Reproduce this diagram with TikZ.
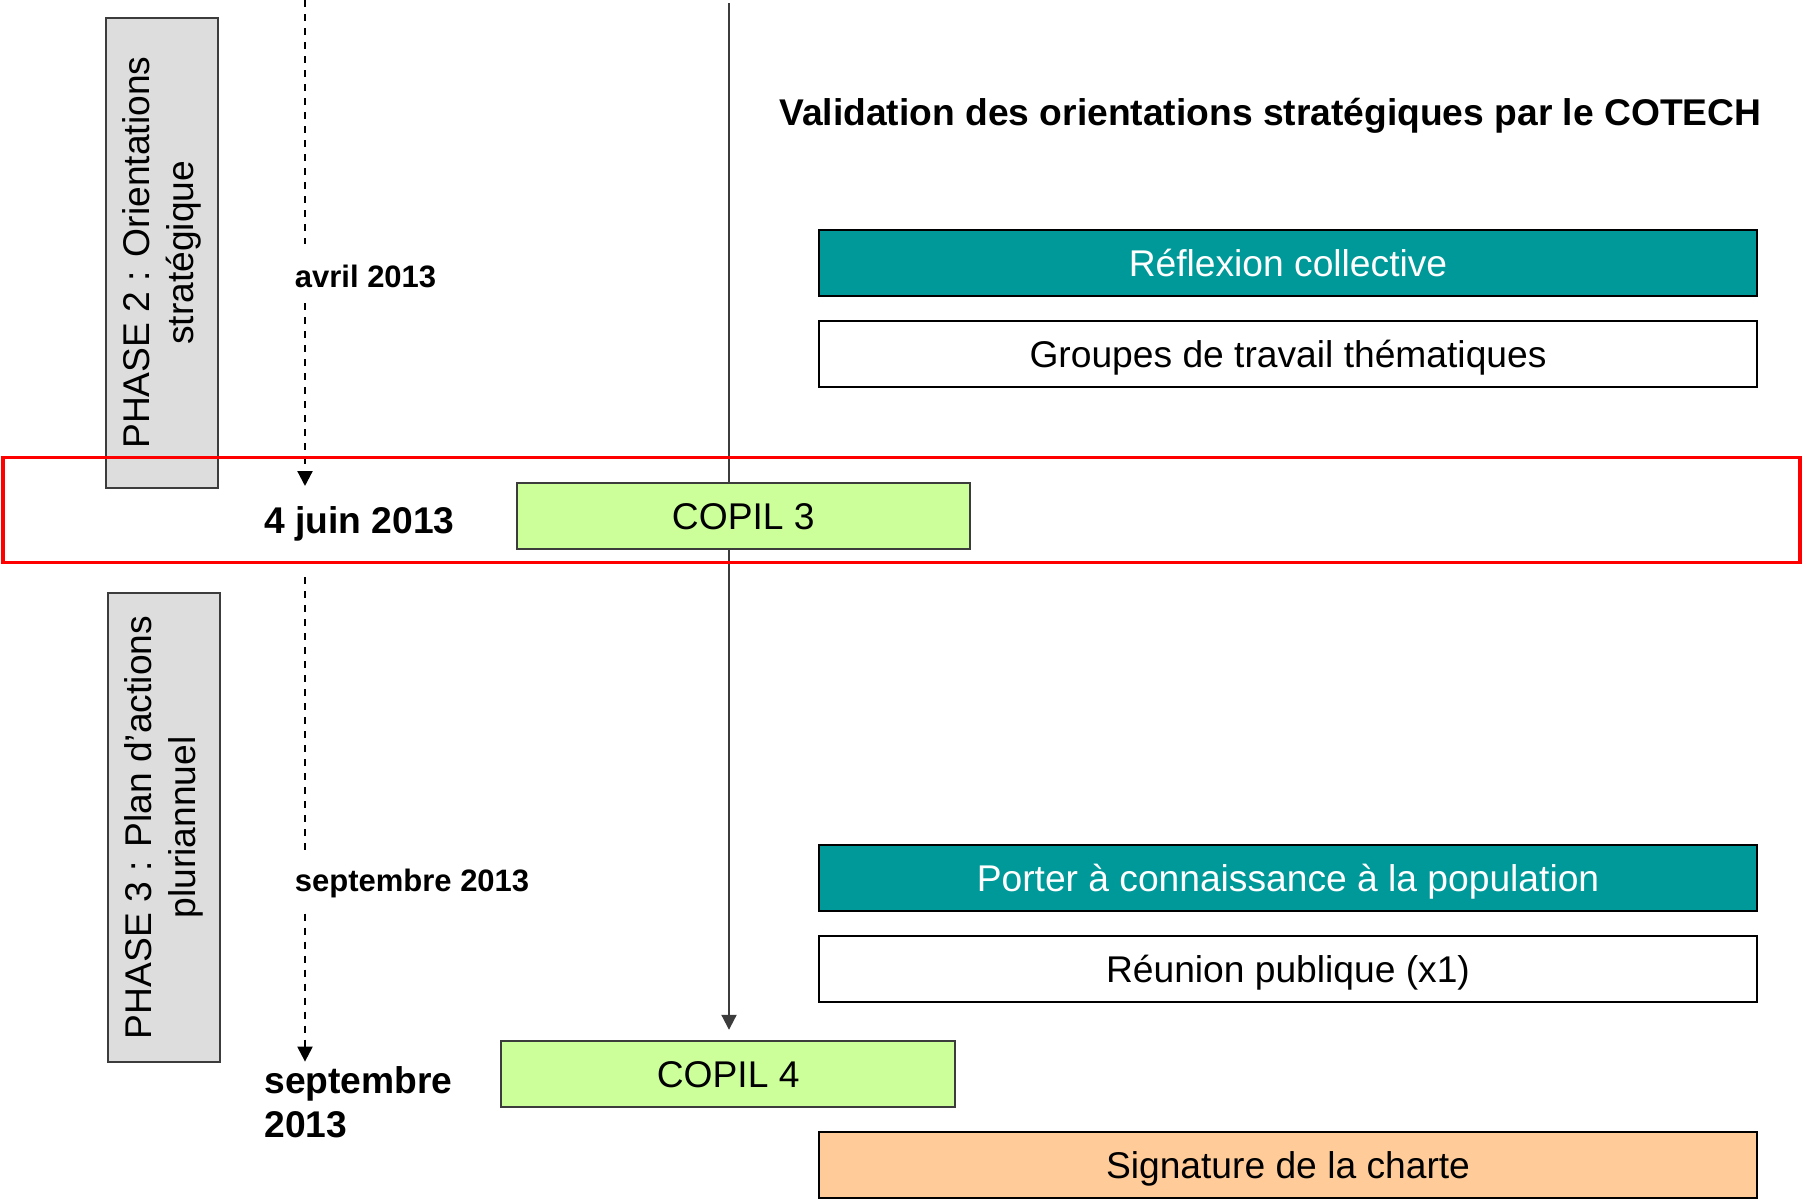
\documentclass[tikz,border=0pt]{standalone}
\usepackage{fontspec}
\setmainfont{Liberation Sans}
\usetikzlibrary{arrows.meta}
\definecolor{tealbox}{RGB}{0,153,153}
\definecolor{lgreen}{RGB}{204,255,153}
\definecolor{peach}{RGB}{255,204,153}
\definecolor{phasegray}{RGB}{221,221,221}
\definecolor{edgegray}{RGB}{60,60,60}
\begin{document}
\begin{tikzpicture}[x=0.5pt,y=-0.5pt,
  big/.style={font=\fontsize{18.6}{22.2}\selectfont},
  bigb/.style={font=\fontsize{18.6}{22.2}\selectfont\bfseries},
  smallb/.style={font=\fontsize{15.5}{18.6}\selectfont\bfseries},
  widebox/.style={draw=black,line width=1pt,minimum width=469pt,minimum height=33pt,inner sep=0pt,text height=13.3pt,text depth=0pt,big},
  copil/.style={draw=edgegray,line width=1pt,fill=lgreen,minimum width=226.75pt,minimum height=33pt,inner sep=0pt,text height=13.3pt,text depth=0pt,big},
  phasebox/.style={draw=edgegray,line width=1pt,fill=phasegray,rotate=90,minimum width=234.9pt,minimum height=55.8pt,inner sep=0pt,align=center,big},
  datelbl/.style={inner sep=0pt,anchor=base west},
  dashline/.style={draw=black,line width=1.1pt,dash pattern=on 3.7pt off 3.3pt},
  tip/.style={-{Triangle[length=7.5pt,width=7.5pt]}}
]
\useasboundingbox (0,0) rectangle (1802,1199);

% phase boxes
\node[phasebox] (p2) at (161.9,252.7) {PHASE 2 : Orientations\\stratégique};
\node[phasebox] (p3) at (163.8,827.5) {PHASE 3 : Plan d’actions\\pluriannuel};

% timeline coordinates
\coordinate (dA1) at (305,0);
\coordinate (dA2) at (305,244);
\coordinate (dB1) at (305,303);
\coordinate (dB2) at (305,486);
\coordinate (dC1) at (305,577);
\coordinate (dC2) at (305,850);
\coordinate (dD1) at (305,913.6);
\coordinate (dD2) at (305,1061.6);
\coordinate (sTop) at (729,3);

% date labels
\node[smallb,datelbl] (avril) at (294.5,287) {avril 2013};
\node[bigb,datelbl] (juin) at (264,533) {4 juin 2013};
\node[smallb,datelbl] (sept1) at (294.5,891) {septembre 2013};
\node[bigb,datelbl] (sept2) at (264,1093.2) {septembre};
\node[bigb,datelbl] (sept2b) at (264,1137.4) {2013};

% dashed timeline
\draw[dashline] (dA1) -- (dA2);
\draw[dashline,tip] (dB1) -- (dB2);
\draw[dashline] (dC1) -- (dC2);
\draw[dashline,tip] (dD1) -- (dD2);

% COPIL 4 box and the solid line ending on it
\node[copil] (c4) at (728.2,1074.2) {COPIL 4};
\draw[edgegray,line width=1pt,tip,shorten >=5.2pt] (sTop) -- (c4.north -| sTop);

% red highlight
\draw[red,line width=1.75pt] (3,457.3) rectangle (1800,562.7);

% COPIL 3 box (over the solid line)
\node[copil] (c3) at (743.3,515.7) {COPIL 3};

% title
\node[bigb,datelbl] (title) at (779,125) {Validation des orientations stratégiques par le COTECH};

% right boxes
\node[widebox,fill=tealbox,text=white] (refl) at (1288,263) {Réflexion collective};
\node[widebox,fill=white] (grp) at (1288,353.7) {Groupes de travail thématiques};
\node[widebox,fill=tealbox,text=white] (porter) at (1288,877.9) {Porter à connaissance à la population};
\node[widebox,fill=white] (reun) at (1288,968.7) {Réunion publique (x1)};
\node[widebox,fill=peach] (sig) at (1288,1165) {Signature de la charte};
\end{tikzpicture}
\end{document}
